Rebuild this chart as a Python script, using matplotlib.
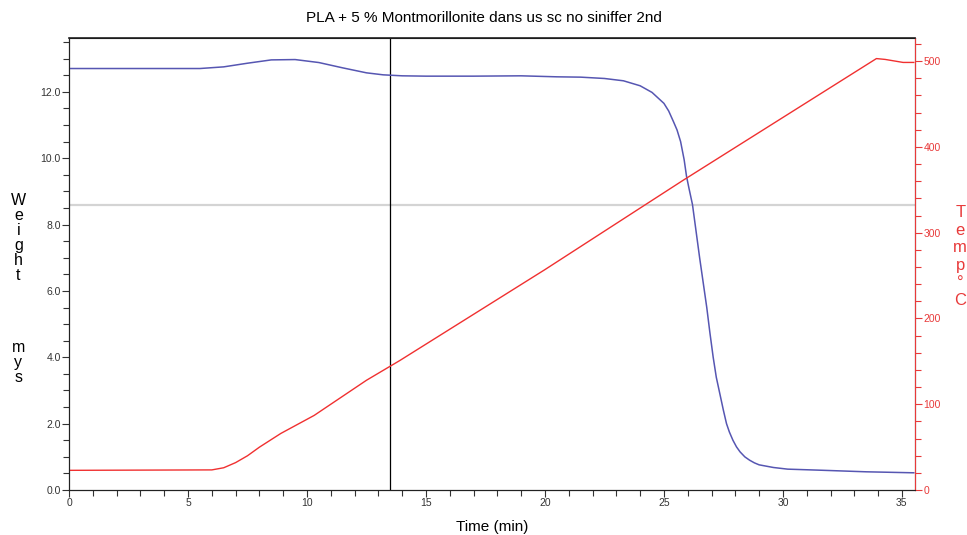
import matplotlib.pyplot as plt
from matplotlib.ticker import MultipleLocator

plt.rcParams['font.family'] = ['Liberation Sans', 'DejaVu Sans']

# weight curve (min, mg)
t_weight = [0, 5.5, 6.5, 7.5, 8.5, 9.5, 10.5, 11.5, 12.5, 13.2, 14, 15, 17, 19,
            20.5, 21.5, 22.5, 23.3, 24.0, 24.5, 25.0, 25.2, 25.4, 25.55, 25.7,
            25.85, 25.95, 26.05, 26.2, 26.35, 26.5, 26.65, 26.8, 26.93, 27.07,
            27.2, 27.35, 27.5, 27.63, 27.75, 27.9, 28.05, 28.2, 28.4, 28.6, 28.8,
            29.0, 29.6, 30.2, 31.5, 33.5, 35.5]
weight = [12.70, 12.70, 12.75, 12.86, 12.96, 12.97, 12.88, 12.72, 12.57, 12.51,
          12.48, 12.47, 12.47, 12.48, 12.45, 12.44, 12.40, 12.33, 12.18, 11.98,
          11.65, 11.42, 11.1, 10.85, 10.5, 9.95, 9.45, 9.1, 8.6, 7.8, 7.0, 6.25,
          5.5, 4.75, 4.0, 3.4, 2.9, 2.4, 2.0, 1.75, 1.5, 1.3, 1.15, 1.0, 0.9,
          0.82, 0.76, 0.68, 0.63, 0.60, 0.55, 0.52]

# temperature curve (min, deg C)
t_temp = [0, 6.0, 6.5, 7.0, 7.5, 8.0, 8.9, 10.3, 12.5, 13.9, 20, 25.8, 33.93,
          34.3, 35.05, 35.5]
temp = [23, 23.5, 26, 32, 40, 50, 66, 87, 128, 151, 257, 361, 503, 502,
        498.5, 498.5]

gray_level = 8.58
cursor_time = 13.49

fig = plt.figure(figsize=(9.67, 5.35), dpi=100)
ax = fig.add_axes([0.0714, 0.084, 0.8748, 0.845])
ax2 = ax.twinx()

ax.axhline(gray_level, color='#d4d4d4', lw=1.6, zorder=1)
ax.axvline(cursor_time, color='black', lw=0.9, zorder=2)
ax.plot(t_weight, weight, color='#5656b2', lw=1.1, zorder=3)
ax2.plot(t_temp, temp, color='#f03030', lw=1.0)

ax.set_xlim(0, 35.55)
ax.set_ylim(0, 13.62)
ax2.set_ylim(0, 527)

ax.xaxis.set_major_locator(MultipleLocator(5))
ax.xaxis.set_minor_locator(MultipleLocator(1))
ax.yaxis.set_major_locator(MultipleLocator(2))
ax.yaxis.set_minor_locator(MultipleLocator(0.5))
ax.yaxis.set_major_formatter(plt.FormatStrFormatter('%.1f'))
ax2.yaxis.set_major_locator(MultipleLocator(100))
ax2.yaxis.set_minor_locator(MultipleLocator(20))

ax.tick_params(axis='both', which='major', labelsize=7.5, length=5, width=0.8,
               direction='out', pad=1, colors='#333333')
ax.tick_params(axis='both', which='minor', length=4, width=0.8, colors='#333333')
ax2.tick_params(axis='y', which='major', labelsize=7.5, length=5, width=0.8,
                pad=1, colors='#e83a3a')
ax2.tick_params(axis='y', which='minor', length=4, width=0.8, colors='#e83a3a')

for s in ['left', 'bottom', 'top']:
    ax2.spines[s].set_color('#222222')
ax2.spines['right'].set_color('#e83a3a')
ax2.spines['top'].set_linewidth(1.2)

fig.text(0.5, 0.966, 'PLA + 5 % Montmorillonite dans us sc no siniffer 2nd',
         ha='center', va='center', fontsize=11)
ax.set_xlabel('Time (min)', fontsize=11, labelpad=8)
fig.text(0.019, 0.555, '\n'.join('Weight'), ha='center', va='center',
         fontsize=11.5, linespacing=1.0)
fig.text(0.019, 0.322, '\n'.join('mys'), ha='center', va='center',
         fontsize=11.5, linespacing=1.0)
fig.text(0.993, 0.52, '\n'.join('Temp°C'), ha='center', va='center',
         fontsize=12, linespacing=1.22, color='#e83a3a')

fig.savefig('out.png', dpi=100)
